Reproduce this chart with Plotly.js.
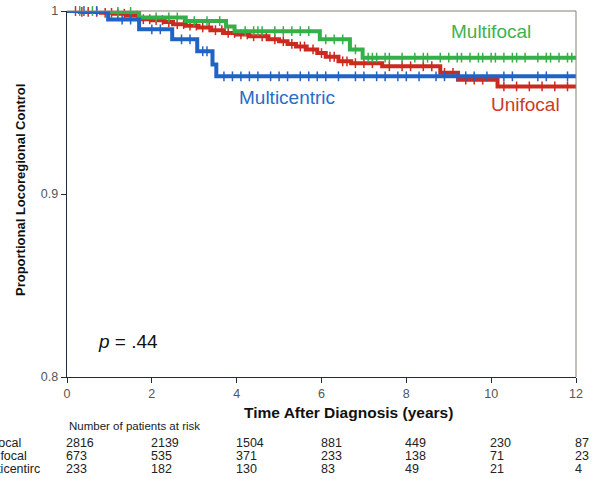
<!DOCTYPE html>
<html>
<head>
<meta charset="utf-8">
<script src="https://cdn.plot.ly/plotly-3.0.1.min.js"></script>
<style>html,body{margin:0;padding:0;background:#fff;}#chart{width:593px;height:479px;}</style>
</head>
<body>
<div id="chart"></div>
<script>
// Step times (years) and proportional locoregional control
const unifocalT = [0, 0.3, 0.8, 1.1, 1.4, 1.7, 2.0, 2.3, 2.5, 2.8, 3.1, 3.4, 3.7, 4.0, 4.3, 4.75, 5.0, 5.2, 5.4, 5.65, 5.9, 6.1, 6.4, 6.7, 7.43, 8.8, 9.22, 10.15, 12];
const unifocalS = [1, 0.9995, 0.999, 0.9985, 0.9975, 0.9955, 0.995, 0.994, 0.9928, 0.992, 0.991, 0.9895, 0.988, 0.9872, 0.9862, 0.9845, 0.9835, 0.982, 0.9806, 0.979, 0.977, 0.975, 0.9725, 0.9715, 0.9698, 0.9662, 0.9625, 0.9588, 0.9588];
const multifocalT = [0, 1.0, 1.7, 2.8, 3.75, 3.95, 5.96, 6.67, 6.97, 12];
const multifocalS = [1, 0.9995, 0.9965, 0.9945, 0.9915, 0.989, 0.9845, 0.979, 0.9745, 0.9745];
const multicentricT = [0, 0.97, 1.7, 2.48, 3.07, 3.43, 3.52, 12];
const multicentricS = [1, 0.9953, 0.990, 0.9845, 0.978, 0.9707, 0.9643, 0.9643];

// Censoring times (tick marks)
const unifocalCens = [0.2, 0.35, 0.5, 0.7, 0.9, 1.05, 1.2, 1.35, 1.5, 1.65, 1.8, 1.95, 2.1, 2.25, 2.4, 2.6, 2.75, 2.9, 3.05, 3.2, 3.35, 3.5, 3.65, 3.8, 3.95, 4.1, 4.25, 4.4, 4.6, 4.7, 4.9, 5.1, 5.3, 5.5, 5.6, 5.8, 6.0, 6.2, 6.3, 6.5, 6.6, 6.8, 7.0, 7.2, 7.6, 7.9, 8.1, 8.4, 8.6, 8.9, 9.1, 9.4, 9.6, 9.8, 10.3, 10.6, 10.9, 11.2, 11.5, 11.8];
const multifocalCens = [0.3, 0.6, 1.2, 1.5, 2.1, 2.4, 2.6, 3.0, 3.3, 3.6, 4.2, 4.4, 4.5, 4.6, 4.9, 5.1, 5.3, 5.5, 5.7, 6.1, 6.3, 6.5, 6.8, 7.1, 7.2, 7.3, 7.5, 7.6, 7.9, 8.2, 8.4, 8.5, 8.8, 9.0, 9.2, 9.3, 9.5, 9.7, 9.8, 10.0, 10.1, 10.3, 10.5, 10.6, 10.8, 11.1, 11.3, 11.4, 11.6, 11.8, 11.9];
const multicentricCens = [0.4, 0.7, 1.3, 1.5, 2.0, 2.2, 2.7, 2.9, 3.2, 3.3, 3.7, 3.9, 4.1, 4.3, 4.5, 4.8, 5.0, 5.2, 5.5, 5.7, 5.9, 6.1, 6.4, 6.8, 7.0, 7.3, 7.5, 7.8, 8.0, 8.3, 8.7, 8.9, 9.2, 9.4, 9.6, 9.9, 10.3, 10.5, 11.1, 11.3, 11.8];

// Risk table
const riskTimes = [0, 2, 4, 6, 8, 10, 12];
const riskLabels = ["Unifocal", "Multifocal", "Multicentirc"];
const riskUnifocal = [2816, 2139, 1504, 881, 449, 230, 87];
const riskMultifocal = [673, 535, 371, 233, 138, 71, 23];
const riskMulticentric = [233, 182, 130, 83, 49, 21, 4];

const xTicks = [0, 2, 4, 6, 8, 10, 12];
const yTicks = [0.8, 0.9, 1];
const yTickText = ["0.8", "0.9", "1"];

const RED = "#cc2a1f", GREEN = "#34b04a", BLUE = "#2063c4";

function stepAt(T, S, t) {
  let v = S[0];
  for (let i = 0; i < T.length; i++) { if (T[i] <= t) v = S[i]; }
  return v;
}

function curve(T, S, color) {
  return {x: T, y: S, mode: "lines", line: {shape: "hv", color: color, width: 4}, hoverinfo: "skip", showlegend: false};
}
function cens(C, T, S, color) {
  return {x: C, y: C.map(t => stepAt(T, S, t)), mode: "markers", cliponaxis: false,
    marker: {symbol: "line-ns", size: 7, color: color, line: {color: color, width: 1.5}}, hoverinfo: "skip", showlegend: false};
}

const data = [
  curve(unifocalT, unifocalS, RED), cens(unifocalCens, unifocalT, unifocalS, RED),
  curve(multifocalT, multifocalS, GREEN), cens(multifocalCens, multifocalT, multifocalS, GREEN),
  curve(multicentricT, multicentricS, BLUE), cens(multicentricCens, multicentricT, multicentricS, BLUE)
];

const FONT = "Liberation Sans, Arial, sans-serif";
const annotations = [
  {text: "Multifocal", x: 491, y: 32, font: {size: 19, color: "#3cb34f"}},
  {text: "Multicentric", x: 287, y: 97, font: {size: 19, color: "#2a6cc6"}},
  {text: "Unifocal", x: 525, y: 105, font: {size: 19, color: "#cf3a26"}},
  {text: "<i>p</i> = .44", x: 128, y: 341, font: {size: 19, color: "#111"}},
  {text: "<b>Time After Diagnosis (years)</b>", x: 348, y: 412, font: {size: 15.5, color: "#111"}},
  {text: "<b>Proportional Locoregional Control</b>", x: 20, y: 190, textangle: -90, font: {size: 13, color: "#111"}},
].map(a => Object.assign({xref: "paper", yref: "paper", showarrow: false, xanchor: "center", yanchor: "middle"}, a));

// convert pixel coords to paper coords
const W = 593, H = 479, ML = 67, MR = 17, MT = 11, MB = 102;
const PW = W - ML - MR, PH = H - MT - MB;
annotations.forEach(a => { a.x = (a.x - ML) / PW; a.y = (H - MB - a.y) / PH; });

annotations.push({xref: "paper", yref: "paper", x: 0, y: (H - MB - 426) / PH, xanchor: "left", yanchor: "middle",
  text: "Number of patients at risk", showarrow: false, font: {size: 11.5, color: "#222"}});
const rows = [riskUnifocal, riskMultifocal, riskMulticentric];
const rowY = [443, 456, 469];
const labelRight = [23, 29, 42];
rows.forEach((row, r) => {
  const py = (H - MB - rowY[r]) / PH;
  annotations.push({xref: "paper", yref: "paper", x: (labelRight[r] - ML) / PW, y: py, xanchor: "right", yanchor: "middle",
    text: riskLabels[r], showarrow: false, font: {size: 12.5, color: "#222"}});
  row.forEach((n, i) => {
    annotations.push({xref: "x", yref: "paper", x: riskTimes[i], y: py, xanchor: "left", yanchor: "middle",
      xshift: -3, text: String(n), showarrow: false, font: {size: 12.5, color: "#222"}});
  });
});

const axisCommon = {showgrid: false, zeroline: false, showline: true, linecolor: "#1d2b3a", linewidth: 1.3,
  ticks: "outside", ticklen: 5, tickwidth: 1, tickcolor: "#1d2b3a", tickfont: {size: 12.5, color: "#555", family: FONT}};

const layout = {
  width: W, height: H,
  margin: {l: ML, r: MR, t: MT, b: MB, pad: 0},
  paper_bgcolor: "#fff", plot_bgcolor: "#fff",
  font: {family: FONT},
  showlegend: false,
  xaxis: Object.assign({}, axisCommon, {range: [0, 12], tickvals: xTicks, ticktext: xTicks.map(String)}),
  yaxis: Object.assign({}, axisCommon, {range: [0.8, 1.0], tickvals: yTicks, ticktext: yTickText}),
  shapes: [
    {type: "line", xref: "paper", yref: "paper", x0: 0, x1: 1, y0: 1, y1: 1, line: {color: "#8a7f78", width: 1}},
    {type: "line", xref: "paper", yref: "paper", x0: 1, x1: 1, y0: 0, y1: 1, line: {color: "#8a7f78", width: 1}}
  ],
  annotations: annotations
};

Plotly.newPlot("chart", data, layout, {staticPlot: true, displayModeBar: false});
</script>
</body>
</html>
